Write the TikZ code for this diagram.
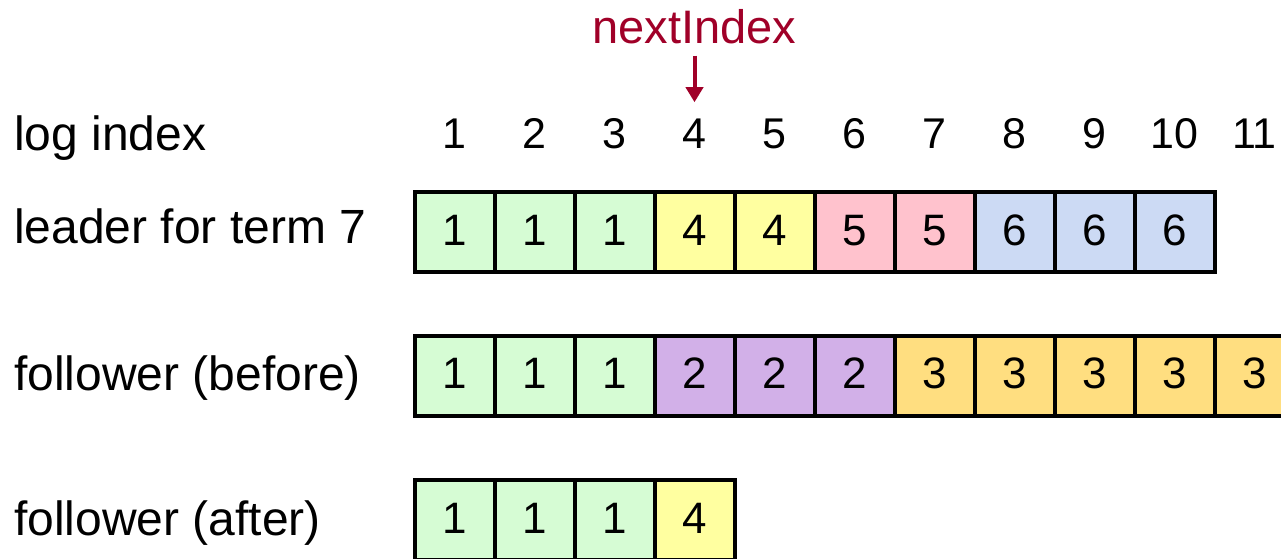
\documentclass[tikz,border=0pt]{standalone}
\usepackage{fontspec}
\setmainfont{Liberation Sans}
\usepackage{xcolor}
\usepackage{tikz}
\usetikzlibrary{arrows.meta}
\definecolor{figline}{RGB}{0,0,0}
\definecolor{figmark}{RGB}{160,0,40}
\definecolor{tgreen}{RGB}{214,252,212}
\definecolor{tyellow}{RGB}{255,255,160}
\definecolor{tpink}{RGB}{255,194,205}
\definecolor{tblue}{RGB}{204,218,244}
\definecolor{tpurple}{RGB}{210,176,232}
\definecolor{tgold}{RGB}{255,222,128}
\tikzset{
  cell/.style ={draw=figline, line width=4pt, minimum width=80pt, minimum height=80pt,
                inner sep=0pt, text height=32pt, text depth=6pt, font=\fontsize{44}{44}\selectfont},
  lab/.style  ={anchor=base west, inner sep=0pt, font=\fontsize{48}{48}\selectfont},
  idx/.style  ={anchor=base, inner sep=0pt, font=\fontsize{43}{43}\selectfont},
  ptr/.style  ={draw=figmark, line width=4pt, -{Triangle[length=15pt,width=17pt]}},
}
\begin{document}
\begin{tikzpicture}[x=1pt,y=-1pt]
  \useasboundingbox (0,0) rectangle (1281,558);
  % row labels
  \node[lab] (lidx) at (14,150) {log index};
  \node[lab] (lldr) at (14,243) {leader for term 7};
  \node[lab] (lbef) at (14,390) {follower (before)};
  \node[lab] (laft) at (14,535) {follower (after)};
  % log index numbers
  \node[idx] (idx1)  at (454.5,148) {1};
  \node[idx] (idx2)  at (534.5,148) {2};
  \node[idx] (idx3)  at (614.5,148) {3};
  \node[idx] (idx4)  at (694.5,148) {4};
  \node[idx] (idx5)  at (774.5,148) {5};
  \node[idx] (idx6)  at (854.5,148) {6};
  \node[idx] (idx7)  at (934.5,148) {7};
  \node[idx] (idx8)  at (1014.5,148) {8};
  \node[idx] (idx9)  at (1094.5,148) {9};
  \node[idx] (idx10) at (1174.5,148) {10};
  \node[idx] (idx11) at (1254.5,148) {11};
  % nextIndex pointer
  \node[anchor=base, inner sep=0pt, text=figmark, font=\fontsize{47}{47}\selectfont] (nxt) at (694.5,43) {nextIndex};
  \draw[ptr, shorten <=12pt, shorten >=16pt] (nxt.south) -- (idx4.north);
  % leader for term 7
  \node[cell,fill=tgreen]  (ld1)  at (454.5,232) {1};
  \node[cell,fill=tgreen]  (ld2)  at (534.5,232) {1};
  \node[cell,fill=tgreen]  (ld3)  at (614.5,232) {1};
  \node[cell,fill=tyellow] (ld4)  at (694.5,232) {4};
  \node[cell,fill=tyellow] (ld5)  at (774.5,232) {4};
  \node[cell,fill=tpink]   (ld6)  at (854.5,232) {5};
  \node[cell,fill=tpink]   (ld7)  at (934.5,232) {5};
  \node[cell,fill=tblue]   (ld8)  at (1014.5,232) {6};
  \node[cell,fill=tblue]   (ld9)  at (1094.5,232) {6};
  \node[cell,fill=tblue]   (ld10) at (1174.5,232) {6};
  % follower (before)
  \node[cell,fill=tgreen]  (fb1)  at (454.5,375.5) {1};
  \node[cell,fill=tgreen]  (fb2)  at (534.5,375.5) {1};
  \node[cell,fill=tgreen]  (fb3)  at (614.5,375.5) {1};
  \node[cell,fill=tpurple] (fb4)  at (694.5,375.5) {2};
  \node[cell,fill=tpurple] (fb5)  at (774.5,375.5) {2};
  \node[cell,fill=tpurple] (fb6)  at (854.5,375.5) {2};
  \node[cell,fill=tgold]   (fb7)  at (934.5,375.5) {3};
  \node[cell,fill=tgold]   (fb8)  at (1014.5,375.5) {3};
  \node[cell,fill=tgold]   (fb9)  at (1094.5,375.5) {3};
  \node[cell,fill=tgold]   (fb10) at (1174.5,375.5) {3};
  \node[cell,fill=tgold]   (fb11) at (1254.5,375.5) {3};
  % follower (after)
  \node[cell,fill=tgreen]  (fa1)  at (454.5,520) {1};
  \node[cell,fill=tgreen]  (fa2)  at (534.5,520) {1};
  \node[cell,fill=tgreen]  (fa3)  at (614.5,520) {1};
  \node[cell,fill=tyellow] (fa4)  at (694.5,520) {4};
\end{tikzpicture}
\end{document}
